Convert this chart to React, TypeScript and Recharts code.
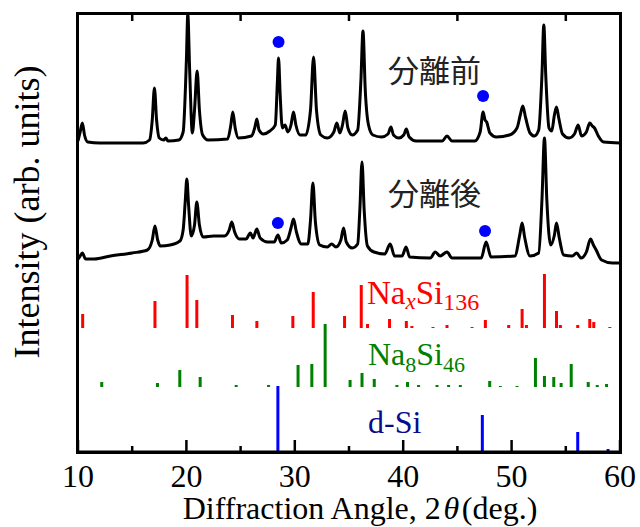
import { ComposedChart, Line, XAxis, YAxis, ReferenceLine, ReferenceDot } from 'recharts'

// measured traces: [2θ (deg), height above the bottom axis]
const beforeSep: [number, number][] = [
  [10.0, 311], [10.2, 320], [10.4, 329], [10.6, 317], [10.9, 310], [12, 309], [16, 309], [16.6, 312],
  [16.85, 332], [17.05, 364], [17.25, 332], [17.5, 314], [17.9, 312], [18.1, 314], [18.3, 311], [19.3, 312],
  [19.7, 320], [20.0, 392], [20.13, 438], [20.3, 382], [20.55, 319], [20.75, 342], [20.99, 381], [21.2, 342],
  [21.5, 317], [22, 312], [23.8, 313], [24.1, 327], [24.28, 340], [24.5, 324], [24.8, 314], [26.0, 316],
  [26.3, 324], [26.5, 333], [26.7, 322], [27.1, 318], [27.7, 321], [28.2, 327], [28.4, 372], [28.5, 394],
  [28.65, 357], [28.85, 324], [29.1, 327], [29.35, 320], [29.65, 327], [29.88, 340], [30.1, 327], [30.5, 317],
  [31.0, 317], [31.45, 342], [31.73, 395], [32.0, 342], [32.4, 317], [33.0, 314], [33.6, 320], [33.88, 329],
  [34.15, 319], [34.4, 327], [34.65, 341], [34.9, 324], [35.3, 317], [35.8, 322], [36.1, 372], [36.29, 421],
  [36.5, 362], [36.8, 327], [37.2, 317], [38.0, 315], [38.6, 318], [38.87, 325], [39.1, 317], [39.6, 314],
  [40.05, 317], [40.29, 323], [40.55, 315], [41.2, 311], [43.6, 311], [44.04, 316], [44.5, 311], [46.6, 311],
  [47.1, 320], [47.37, 340], [47.55, 332], [47.7, 330], [48.0, 319], [48.6, 315], [49.8, 317], [50.5, 324],
  [50.8, 337], [51.03, 346], [51.3, 334], [51.7, 319], [52.1, 316], [52.5, 322], [52.8, 377], [52.97, 427],
  [53.15, 377], [53.45, 324], [53.7, 321], [53.95, 337], [54.14, 345], [54.35, 334], [54.7, 318], [55.3, 314],
  [55.8, 318], [56.14, 327], [56.45, 316], [56.9, 320], [57.21, 329], [57.45, 326], [57.65, 324], [58.0, 316],
  [58.5, 310], [60, 309],
]

const afterSep: [number, number][] = [
  [10.0, 193], [10.2, 196], [10.4, 199], [10.7, 193], [11.5, 193], [13, 196], [15, 199], [16.4, 202],
  [16.85, 212], [17.1, 226], [17.35, 212], [17.6, 206], [18.5, 207], [19.4, 211], [19.7, 222], [19.9, 252],
  [20.04, 273], [20.2, 247], [20.45, 216], [20.75, 227], [20.96, 250], [21.2, 227], [21.55, 215], [22.5, 216],
  [23.5, 216], [23.95, 222], [24.19, 230], [24.45, 220], [24.9, 213], [25.5, 213], [25.9, 219], [26.15, 214],
  [26.5, 223], [26.8, 214], [27.5, 210], [28.1, 210], [28.44, 217], [28.75, 209], [29.3, 212], [29.65, 224],
  [29.88, 233], [30.15, 220], [30.6, 208], [31.2, 208], [31.45, 232], [31.67, 269], [31.9, 230], [32.3, 207],
  [33.0, 205], [33.4, 208], [33.8, 205], [34.25, 212], [34.5, 224], [34.75, 210], [35.3, 204], [35.8, 208],
  [36.0, 242], [36.2, 290], [36.4, 242], [36.7, 206], [37.3, 200], [38.3, 198], [38.8, 208], [39.2, 196],
  [39.9, 196], [40.26, 205], [40.6, 195], [42.5, 194], [42.96, 200], [43.4, 196], [44.04, 200], [44.5, 194],
  [47.2, 194], [47.65, 210], [48.1, 195], [50.3, 196], [50.75, 217], [50.97, 229], [51.2, 215], [51.7, 196],
  [52.5, 199], [52.8, 252], [53.03, 314], [53.25, 252], [53.6, 207], [53.95, 217], [54.14, 229], [54.4, 214],
  [54.8, 197], [55.6, 196], [56.0, 199], [56.4, 194], [56.9, 200], [57.28, 213], [57.55, 207], [57.8, 202],
  [58.3, 192], [59.3, 189], [60, 189],
]

// reference patterns: [2θ, top of stick]
const naxSi136: [number, number][] = [
  [10.43, 138], [17.1, 151], [20.06, 177], [20.96, 152], [24.25, 137], [26.5, 131], [29.82, 136], [31.7, 160],
  [34.59, 136], [36.13, 167], [36.71, 128], [38.74, 133], [40.29, 131], [40.8, 126], [42.75, 125], [44.04, 127],
  [46.35, 125], [47.58, 132], [49.73, 127], [50.97, 143], [51.37, 127], [53.03, 178], [54.14, 141], [54.5, 127],
  [56.1, 127], [57.21, 133], [57.58, 130], [59.06, 125],
]
const na8Si46: [number, number][] = [
  [12.19, 70], [17.33, 69], [19.39, 82], [21.27, 75], [24.59, 67], [27.58, 67], [30.3, 87], [31.57, 88],
  [32.8, 128], [35.1, 72], [36.2, 79], [37.33, 73], [39.42, 67], [40.4, 70], [41.42, 67], [43.12, 67],
  [44.19, 67], [45.27, 67], [47.98, 71], [48.96, 66], [50.5, 66], [52.2, 94], [53.03, 76], [53.89, 75],
  [54.57, 69], [55.5, 88], [57.07, 70], [57.9, 67], [58.76, 68],
]
const dSi: [number, number][] = [[28.44, 66], [47.3, 37], [56.1, 20], [58.9, 3]]

const naxSi136Base = 124
const na8Si46Base = 65
const dSiBase = 0

// d-Si markers above the traces
const siMarks: [number, number][] = [[28.5, 410], [47.37, 356], [28.44, 229], [47.55, 221]]

const majorTicks = [10, 20, 30, 40, 50, 60]
const minorTicks = [15, 25, 35, 45, 55]
const xDomain: [number, number] = [10, 60]
const yDomain: [number, number] = [0, 438]

const serif = '"Liberation Serif", "Times New Roman", serif'
const cjk = '"Noto Sans CJK JP", sans-serif'

const toPts = (arr: [number, number][]) => arr.map(([x, v]) => ({ x, v }))

function TickLabel({ x, y, payload }: any) {
  return (
    <text x={x} y={y + 35} textAnchor="middle" fontSize={32} fontFamily={serif} fill="#000">
      {payload.value}
    </text>
  )
}

export default function App() {
  const sticks = (peaks: [number, number][], base: number, color: string) =>
    peaks.map(([d, top], i) => (
      <ReferenceLine
        key={color + i}
        segment={[{ x: d, y: base }, { x: d, y: top }]}
        stroke={color}
        strokeWidth={3}
      />
    ))

  // inward tick marks on the frame
  const tick = (d: number, y1: number, y2: number, k: string) => (
    <ReferenceLine key={k} segment={[{ x: d, y: y1 }, { x: d, y: y2 }]} stroke="#000" strokeWidth={2.5} />
  )

  return (
    <div style={{ position: 'fixed', left: 0, top: 0, width: 640, height: 527, background: '#fff', overflow: 'hidden' }}>
      <ComposedChart width={640} height={527} margin={{ top: 14, right: 20, left: 78, bottom: 0 }}>
        <XAxis
          dataKey="x"
          type="number"
          domain={xDomain}
          ticks={majorTicks}
          interval={0}
          height={75}
          tickSize={0}
          tickMargin={0}
          tickLine={false}
          axisLine={{ stroke: '#000', strokeWidth: 3 }}
          tick={<TickLabel />}
        />
        <YAxis type="number" domain={yDomain} hide />
        {majorTicks.map((d) => tick(d, yDomain[0], yDomain[0] + 12, 'M' + d))}
        {minorTicks.map((d) => tick(d, yDomain[0], yDomain[0] + 6, 'm' + d))}
        {minorTicks.map((d) => tick(d, yDomain[1], yDomain[1] - 7, 't' + d))}
        {sticks(naxSi136, naxSi136Base, '#ff0000')}
        {sticks(na8Si46, na8Si46Base, '#008000')}
        {sticks(dSi, dSiBase, '#0000ff')}
        <Line data={toPts(beforeSep)} dataKey="v" type="monotone" stroke="#000" strokeWidth={3} dot={false} isAnimationActive={false} />
        <Line data={toPts(afterSep)} dataKey="v" type="monotone" stroke="#000" strokeWidth={3} dot={false} isAnimationActive={false} />
        {siMarks.map(([d, v], i) => (
          <ReferenceDot key={i} x={d} y={v} r={6} fill="#0000ff" stroke="none" />
        ))}
      </ComposedChart>

      {/* plot frame */}
      <div
        style={{
          position: 'absolute',
          left: 76,
          top: 12,
          width: 546,
          height: 442,
          borderStyle: 'solid',
          borderColor: '#000',
          borderWidth: 3,
          boxSizing: 'border-box',
          pointerEvents: 'none',
        }}
      />

      <div style={{ position: 'absolute', left: 388, top: 53, fontSize: 31, lineHeight: 1, fontFamily: cjk, color: '#222' }}>分離前</div>
      <div style={{ position: 'absolute', left: 388, top: 176, fontSize: 31, lineHeight: 1, fontFamily: cjk, color: '#222' }}>分離後</div>

      <div style={{ position: 'absolute', left: 367, top: 277, fontSize: 33, lineHeight: 1, fontFamily: serif, color: '#ff0000', whiteSpace: 'nowrap' }}>
        Na<span style={{ fontSize: 23, fontStyle: 'italic', position: 'relative', top: 5 }}>x</span>Si
        <span style={{ fontSize: 24, position: 'relative', top: 6 }}>136</span>
      </div>
      <div style={{ position: 'absolute', left: 368, top: 338, fontSize: 32, lineHeight: 1, fontFamily: serif, color: '#008000', whiteSpace: 'nowrap' }}>
        Na<span style={{ fontSize: 22, position: 'relative', top: 7 }}>8</span>Si<span style={{ fontSize: 22, position: 'relative', top: 7 }}>46</span>
      </div>
      <div style={{ position: 'absolute', left: 368, top: 406, fontSize: 32, lineHeight: 1, fontFamily: serif, color: '#0a0a8c', whiteSpace: 'nowrap' }}>
        d-Si
      </div>

      <div style={{ position: 'absolute', left: 0, width: 720, top: 494, textAlign: 'center', fontSize: 32, lineHeight: 0.9, fontFamily: serif, color: '#000', whiteSpace: 'nowrap' }}>
        Diffraction Angle, 2&#8202;<i>θ</i>&#8202;(deg.)
      </div>
      <div
        style={{
          position: 'absolute',
          left: 27,
          top: 212,
          transform: 'translate(-50%, -50%) rotate(-90deg)',
          fontSize: 36,
          lineHeight: 1,
          fontFamily: serif,
          color: '#000',
          whiteSpace: 'nowrap',
        }}
      >
        Intensity (arb. units)
      </div>
    </div>
  )
}
